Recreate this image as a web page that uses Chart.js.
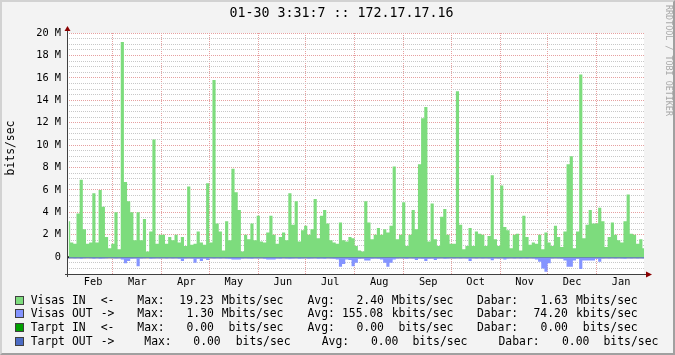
<!DOCTYPE html>
<html>
<head>
<meta charset="utf-8">
<script src="https://cdn.jsdelivr.net/npm/chart.js@4/dist/chart.umd.min.js"></script>
<style>
html, body { margin: 0; padding: 0; background: #f3f3f3; }
#wrap { position: relative; width: 675px; height: 355px; overflow: hidden; }
#c { position: absolute; left: 0; top: 0; }
#frame { position: absolute; left: 0; top: 0; width: 675px; height: 355px; box-sizing: border-box;
  border-top: 2px solid #d2d2d2; border-left: 2px solid #d2d2d2; border-right: 2px solid #a0a0a0; border-bottom: 2px solid #a0a0a0; pointer-events: none; }
.txt { position: absolute; font-family: "DejaVu Sans Mono", monospace; color: #000; white-space: pre; }
#title { left: 0; width: 683px; top: 4px; text-align: center; font-size: 13.3px; line-height: 18px; }
#ytitle { left: 10px; top: 148px; font-size: 11.4px; line-height: 14px; transform: translate(-50%, -50%) rotate(-90deg); }
#legend { position: absolute; left: 0; top: 0; font-family: "DejaVu Sans Mono", monospace; font-size: 11.4px; color: #000; }
#legend span { position: absolute; white-space: pre; line-height: 14px; }
#legend .box { width: 7px; height: 7px; border: 1px solid #404040; }
</style>
</head>
<body>
<div id="wrap">
  <canvas id="c" width="675" height="355"></canvas>
  <div id="title" class="txt">01-30 3:31:7 :: 172.17.17.16</div>
  <div id="ytitle" class="txt">bits/sec</div>
  <div id="legend"></div>
  <div id="frame"></div>
</div>
<script>
// one value per 2 days, first bin starts 01-31, Mbit/s
var binDays = 2;
var visasIn = [
  3.2,1.3,1.2,3.9,6.9,2.5,1.2,1.3,5.7,1.3,6.0,4.5,1.8,0.8,1.2,4.0,0.7,19.2,6.7,5.0,4.0,1.5,4.0,1.5,3.4,0.5,2.3,10.5,1.2,2.0,2.0,
  1.2,1.8,1.5,2.0,1.3,1.8,1.0,6.3,1.1,1.2,2.3,1.3,1.1,6.6,1.3,15.8,3.0,2.3,0.6,3.2,1.5,7.9,5.8,4.2,0.5,2.0,1.6,3.0,1.5,3.7,1.4,
  1.3,2.2,3.7,2.0,1.2,1.8,2.2,1.5,5.7,2.9,5.0,1.4,2.4,2.8,2.0,2.5,5.2,1.7,3.7,4.2,3.0,1.5,1.3,1.2,3.1,1.5,1.4,1.8,1.7,1.0,
  0.6,0.5,5.0,3.1,1.6,2.0,2.6,2.0,2.5,2.2,2.8,8.1,1.6,2.0,4.9,1.0,2.0,4.2,2.5,8.3,12.4,13.4,1.4,4.8,1.6,1.0,3.6,4.3,2.0,1.2,
  1.2,14.8,2.9,0.7,1.0,2.6,1.0,2.3,2.1,2.0,1.0,1.9,7.3,1.6,1.0,6.4,2.7,2.4,0.8,2.0,2.1,0.6,3.7,1.8,1.1,1.3,1.2,2.0,0.7,2.2,
  1.3,1.0,2.8,1.8,0.9,2.3,8.3,9.0,0.8,2.3,16.3,1.7,2.9,4.2,3.0,3.0,4.4,3.2,0.9,1.8,3.1,2.0,1.5,1.3,3.2,5.6,2.1,2.0,1.2,1.6,0.8
];
var visasOut = [
  0.12,0.1,0.12,0.1,0.15,0.1,0.08,0.1,0.15,0.1,
  0.15,0.12,0.1,0.08,0.1,0.12,0.1,0.2,0.55,0.35,
  0.15,0.12,0.8,0.12,0.1,0.08,0.15,0.12,0.1,0.12,
  0.1,0.12,0.1,0.12,0.1,0.15,0.35,0.12,0.1,0.12,
  0.5,0.15,0.35,0.12,0.25,0.1,0.12,0.1,0.12,0.1,
  0.12,0.15,0.2,0.2,0.2,0.12,0.1,0.12,0.15,0.1,
  0.12,0.1,0.15,0.2,0.2,0.2,0.12,0.15,0.1,0.12,
  0.15,0.12,0.1,0.15,0.12,0.1,0.15,0.12,0.1,0.15,
  0.12,0.15,0.1,0.12,0.15,0.2,0.85,0.6,0.2,0.25,
  0.8,0.5,0.15,0.12,0.3,0.3,0.15,0.12,0.15,0.2,
  0.5,0.85,0.5,0.2,0.12,0.1,0.12,0.15,0.1,0.12,
  0.25,0.12,0.15,0.35,0.15,0.12,0.25,0.12,0.1,0.15,
  0.12,0.1,0.12,0.1,0.12,0.1,0.12,0.35,0.1,0.12,
  0.1,0.12,0.1,0.12,0.28,0.1,0.12,0.1,0.2,0.12,
  0.1,0.12,0.1,0.12,0.1,0.12,0.1,0.12,0.2,0.4,
  1.0,1.3,0.55,0.12,0.1,0.12,0.15,0.3,0.85,0.85,
  0.3,0.15,1.05,0.3,0.3,0.3,0.3,0.15,0.4,0.12,
  0.1,0.12,0.1,0.12,0.1,0.12,0.15,0.1,0.12,0.1,
  0.12,0.1,0.12
];
var monthNames   = ['Feb','Mar','Apr','May','Jun','Jul','Aug','Sep','Oct','Nov','Dec','Jan'];
var monthCenters = [16.5, 44.5, 75.5, 105.5, 136.5, 166.5, 197.5, 228.5, 258.5, 289.5, 319.5, 350.5];
var monthStarts  = [29, 60, 90, 121, 151, 182, 213, 243, 274, 304, 335];
var yLabelTicks  = [0, 2, 4, 6, 8, 10, 12, 14, 16, 18, 20];
var yMin = -1.5, yMax = 20, yMinor = 0.5, dayMax = 365;

var legendRows = [
  { color: '#7ddc7d', cells: ['Visas','IN','<-','Max:','19.23','Mbits/sec','Avg:','2.40','Mbits/sec','Dabar:','1.63','Mbits/sec'] },
  { color: '#8494ff', cells: ['Visas','OUT','->','Max:','1.30','Mbits/sec','Avg:','155.08','kbits/sec','Dabar:','74.20','kbits/sec'] },
  { color: '#00a000', cells: ['Tarpt','IN','<-','Max:','0.00','bits/sec','Avg:','0.00','bits/sec','Dabar:','0.00','bits/sec'] },
  { color: '#4c6cc4', cells: ['Tarpt','OUT','->','Max:','0.00','bits/sec','Avg:','0.00','bits/sec','Dabar:','0.00','bits/sec'] }
];
// layout of the legend text (px)
var legendX = [
  [30.7, 72, 100.7, 137.3, 179.3, 221.7, 307.5, 356.5, 391.7, 477, 540.5, 576],
  [30.7, 72, 100.7, 137.3, 186.5, 221.7, 307.5, 342, 391.7, 477, 533.5, 576],
  [30.7, 72, 100.7, 137.3, 186.5, 228.5, 307.5, 356.5, 398.5, 477, 540.5, 582.8],
  [30.7, 72, 100.7, 144.3, 193.3, 235.7, 321.7, 371, 412.5, 498.5, 562, 603.5]
];
var legendY = [299.7, 313.3, 327.3, 341];

var lg = document.getElementById('legend');
legendRows.forEach(function (row, r) {
  var b = document.createElement('span');
  b.className = 'box';
  b.style.left = '15px';
  b.style.top = (legendY[r] - 4) + 'px';
  b.style.background = row.color;
  lg.appendChild(b);
  row.cells.forEach(function (t, k) {
    var s = document.createElement('span');
    s.textContent = t;
    s.style.left = legendX[r][k] + 'px';
    s.style.top = (legendY[r] - 7) + 'px';
    lg.appendChild(s);
  });
});

var inPts = visasIn.map(function (v, i) { return { x: i * binDays + 1, y: v }; });
var outPts = visasOut.map(function (v, i) { return { x: i * binDays + 1, y: -v }; });

var mono = 'DejaVu Sans Mono';

var rrdDecor = {
  id: 'rrdDecor',
  beforeDraw: function (chart) {
    var a = chart.chartArea, ctx = chart.ctx;
    ctx.save();
    ctx.fillStyle = '#ffffff';
    ctx.fillRect(a.left, a.top, a.right - a.left, a.bottom - a.top);
    ctx.restore();
  },
  afterDraw: function (chart) {
    var a = chart.chartArea, ctx = chart.ctx;
    ctx.save();
    // axis extensions
    ctx.strokeStyle = '#404040';
    ctx.lineWidth = 1;
    ctx.beginPath();
    ctx.moveTo(a.left + 0.5, a.top - 4); ctx.lineTo(a.left + 0.5, a.bottom + 3);
    ctx.moveTo(a.left - 2, a.bottom + 0.5); ctx.lineTo(a.right + 3, a.bottom + 0.5);
    ctx.stroke();
    // arrows
    ctx.fillStyle = '#8b0000';
    ctx.beginPath();
    ctx.moveTo(a.left + 0.5, a.top - 7);
    ctx.lineTo(a.left - 2.5, a.top - 2);
    ctx.lineTo(a.left + 3.5, a.top - 2);
    ctx.closePath(); ctx.fill();
    ctx.beginPath();
    ctx.moveTo(a.right + 8, a.bottom + 0.5);
    ctx.lineTo(a.right + 2, a.bottom - 2.5);
    ctx.lineTo(a.right + 2, a.bottom + 3.5);
    ctx.closePath(); ctx.fill();
    // credit
    ctx.translate(chart.width - 7, 5);
    ctx.rotate(Math.PI / 2);
    ctx.fillStyle = '#a8a8a8';
    ctx.font = '8.4px "' + mono + '"';
    ctx.textBaseline = 'middle';
    ctx.fillText('RRDTOOL / TOBI OETIKER', 0, 0);
    ctx.restore();
  }
};

new Chart(document.getElementById('c'), {
  type: 'line',
  data: {
    datasets: [
      { label: 'Visas IN', data: inPts, stepped: 'middle', fill: 'origin', backgroundColor: '#7ddc7d',
        borderColor: 'rgba(0,0,0,0)', borderWidth: 0, pointRadius: 0 },
      { label: 'Visas OUT', data: outPts, stepped: 'middle', fill: 'origin', backgroundColor: '#8494ff',
        borderColor: 'rgba(0,0,0,0)', borderWidth: 0, pointRadius: 0 },
      { label: 'zero', data: [{ x: 0, y: 0 }, { x: dayMax, y: 0 }], borderColor: '#000000', borderWidth: 2,
        pointRadius: 0, fill: false }
    ]
  },
  options: {
    responsive: false,
    animation: false,
    devicePixelRatio: 1,
    layout: { padding: { left: 0, right: 31, top: 33, bottom: 61 } },
    plugins: {
      legend: { display: false },
      tooltip: { enabled: false },
      title: { display: false }
    },
    scales: {
      x: {
        type: 'linear', min: 0, max: dayMax, z: 1,
        afterFit: function (s) { s.height = 20; },
        afterBuildTicks: function (s) {
          s.ticks = monthStarts.concat(monthCenters).sort(function (a, b) { return a - b; })
            .map(function (v) { return { value: v }; });
        },
        grid: {
          drawTicks: false,
          color: function (ctx) {
            return (ctx.tick && monthStarts.indexOf(ctx.tick.value) >= 0) ? '#e6a0a0' : 'rgba(0,0,0,0)';
          }
        },
        border: { display: false, dash: [1, 1] },
        ticks: {
          autoSkip: false, maxRotation: 0, padding: 2, color: '#000',
          font: { family: mono, size: 10.3 },
          callback: function (v) {
            var i = monthCenters.indexOf(v);
            return i >= 0 ? monthNames[i] : '';
          }
        }
      },
      y: {
        min: yMin, max: yMax, z: 1,
        afterFit: function (s) { s.width = 67; },
        afterBuildTicks: function (s) {
          var t = [];
          for (var v = yMin; v <= yMax + 1e-9; v += yMinor) t.push({ value: Math.round(v * 10) / 10 });
          s.ticks = t;
        },
        grid: {
          drawTicks: false,
          color: function (ctx) {
            var v = ctx.tick ? ctx.tick.value : null;
            if (v === 0 || v === yMin) return 'rgba(0,0,0,0)';
            return yLabelTicks.indexOf(v) >= 0 ? '#e6a0a0' : '#c8c8c8';
          }
        },
        border: { display: false, dash: [1, 1] },
        ticks: {
          autoSkip: false, padding: 6, color: '#000',
          font: { family: mono, size: 10.3 },
          callback: function (v) {
            if (yLabelTicks.indexOf(v) < 0) return '';
            return v === 0 ? '0' : v + ' M';
          }
        }
      }
    }
  },
  plugins: [rrdDecor]
});
</script>
</body>
</html>
